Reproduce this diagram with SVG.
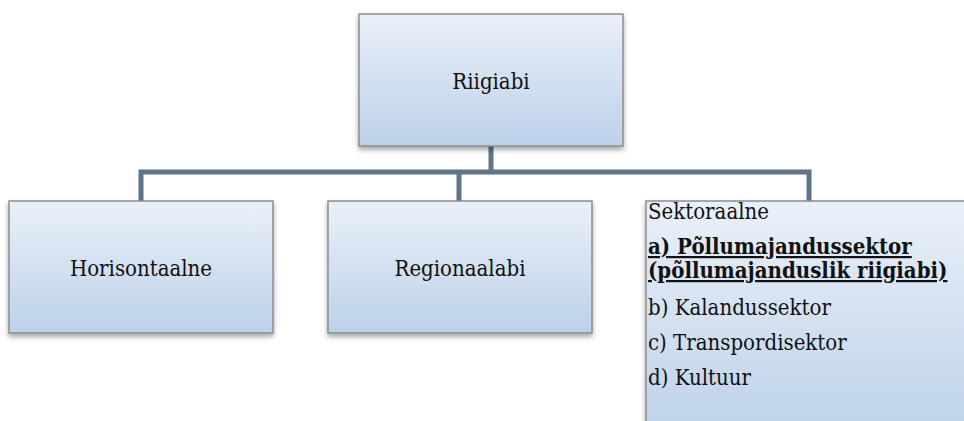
<svg xmlns="http://www.w3.org/2000/svg" width="964" height="421" viewBox="0 0 964 421">
<defs>
<linearGradient id="g" x1="0" y1="0" x2="0" y2="1">
<stop offset="0" stop-color="#eaf0f9"/>
<stop offset="1" stop-color="#bcd1e9"/>
</linearGradient>
<filter id="sh" x="-10%" y="-10%" width="120%" height="130%">
<feDropShadow dx="0" dy="3" stdDeviation="2.5" flood-color="#000" flood-opacity="0.35"/>
</filter>
</defs>
<style>
.box{fill:url(#g);stroke:#8a8d91;stroke-width:1.5;filter:url(#sh)}
.t{font-family:"DejaVu Serif Condensed","DejaVu Serif",serif;font-stretch:condensed;font-size:22px;fill:#111}
.c{fill:none;stroke:#5f7488;stroke-width:5}
.b{font-weight:bold;text-decoration:underline}
</style>
<g id="connectors">
<path class="c" d="M491 146 V172 M141 201 V172 H809 V201 M459 172 V201"/>
</g>
<g id="n-riigiabi">
<rect class="box" x="359" y="14" width="264" height="132"/>
<text class="t" x="491" y="89" text-anchor="middle">Riigiabi</text>
</g>
<g id="n-horisontaalne">
<rect class="box" x="9" y="201" width="264" height="132"/>
<text class="t" x="141" y="276" text-anchor="middle">Horisontaalne</text>
</g>
<g id="n-regionaalabi">
<rect class="box" x="328" y="201" width="264" height="132"/>
<text class="t" x="460" y="276" text-anchor="middle">Regionaalabi</text>
</g>
<g id="n-sektoraalne">
<rect class="box" x="646" y="201" width="330" height="240"/>
<text class="t" x="648" y="219">Sektoraalne</text>
<text class="t b" x="648" y="254">a) Põllumajandussektor</text>
<text class="t b" x="648" y="278">(põllumajanduslik riigiabi)</text>
<text class="t" x="648" y="315">b) Kalandussektor</text>
<text class="t" x="648" y="350">c) Transpordisektor</text>
<text class="t" x="648" y="385">d) Kultuur</text>
</g>
</svg>
